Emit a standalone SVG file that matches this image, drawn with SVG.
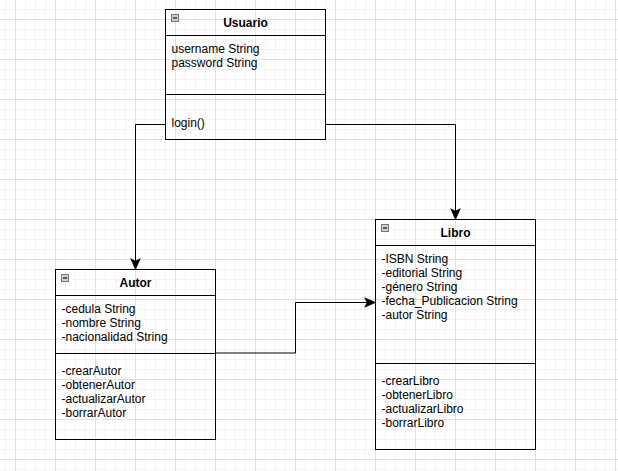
<svg xmlns="http://www.w3.org/2000/svg" width="618" height="471" viewBox="0 0 618 471">
<style>
.box{fill:none;stroke:#000;stroke-width:1}
.ln{stroke:#000;stroke-width:1;fill:none}
.t{font-family:"Liberation Sans",Arial,sans-serif;font-size:12px;fill:#000}
.h{font-family:"Liberation Sans",Arial,sans-serif;font-size:12px;font-weight:bold;fill:#000;text-anchor:middle}
.icon{fill:#cfcfcf;stroke:#707880;stroke-width:1}
.minus{stroke:#111;stroke-width:1.2}
.edge{stroke:#000;stroke-width:1;fill:none;marker-end:url(#arr)}
</style>
<defs>
<pattern id="minor" width="10" height="10" patternUnits="userSpaceOnUse" x="5" y="9">
<path d="M0.5,0 V10 M0,0.5 H10" stroke="#f3f3f3" stroke-width="1" fill="none"/>
</pattern>
<pattern id="major" width="40" height="40" patternUnits="userSpaceOnUse" x="15" y="19">
<path d="M0.5,0 V40 M0,0.5 H40" stroke="#e0e0e0" stroke-width="1" fill="none"/>
</pattern>
<marker id="arr" markerUnits="userSpaceOnUse" markerWidth="12" markerHeight="12" viewBox="0 0 10 10" refX="10" refY="5" orient="auto">
<path d="M1,1 L10,5 L1,9 L3,5 Z" fill="#000" stroke="#000" stroke-width="0.5"/>
</marker>
</defs>
<rect width="618" height="471" fill="#fff"/>
<rect width="618" height="471" fill="url(#minor)"/>
<rect width="618" height="471" fill="url(#major)"/>

<g id="connectors">
<path class="edge" d="M165.5,124.5 H135.5 V269.5"/>
<path class="edge" d="M325.5,124.5 H455.5 V219.5"/>
<path class="edge" d="M215.5,353 H295.5 V302.5 H375.5"/>
</g>

<g id="usuario">
<rect class="box" x="165.5" y="9.5" width="160" height="130"/>
<line class="ln" x1="165.5" y1="35.5" x2="325.5" y2="35.5"/>
<line class="ln" x1="165.5" y1="94.5" x2="325.5" y2="94.5"/>
<rect class="icon" x="171.5" y="14.5" width="7" height="7"/>
<line class="minus" x1="173" y1="18" x2="177" y2="18"/>
<text class="h" x="245.5" y="27">Usuario</text>
<text class="t" x="171.5" y="53">username String</text>
<text class="t" x="171.5" y="67">password String</text>
<text class="t" x="171.5" y="127">login()</text>
</g>

<g id="autor">
<rect class="box" x="55.5" y="269.5" width="160" height="170"/>
<line class="ln" x1="55.5" y1="295.5" x2="215.5" y2="295.5"/>
<line class="ln" x1="55.5" y1="353.5" x2="215.5" y2="353.5"/>
<rect class="icon" x="61.5" y="274.5" width="7" height="7"/>
<line class="minus" x1="63" y1="278" x2="67" y2="278"/>
<text class="h" x="135.5" y="287">Autor</text>
<text class="t" x="61.5" y="313">-cedula String</text>
<text class="t" x="61.5" y="327">-nombre String</text>
<text class="t" x="61.5" y="341">-nacionalidad String</text>
<text class="t" x="61.5" y="375">-crearAutor</text>
<text class="t" x="61.5" y="389">-obtenerAutor</text>
<text class="t" x="61.5" y="403">-actualizarAutor</text>
<text class="t" x="61.5" y="417">-borrarAutor</text>
</g>

<g id="libro">
<rect class="box" x="375.5" y="219.5" width="160" height="230"/>
<line class="ln" x1="375.5" y1="245.5" x2="535.5" y2="245.5"/>
<line class="ln" x1="375.5" y1="363.5" x2="535.5" y2="363.5"/>
<rect class="icon" x="381.5" y="224.5" width="7" height="7"/>
<line class="minus" x1="383" y1="228" x2="387" y2="228"/>
<text class="h" x="455.5" y="237">Libro</text>
<text class="t" x="381.5" y="263">-ISBN String</text>
<text class="t" x="381.5" y="277">-editorial String</text>
<text class="t" x="381.5" y="291">-género String</text>
<text class="t" x="381.5" y="305">-fecha_Publicacion String</text>
<text class="t" x="381.5" y="319">-autor String</text>
<text class="t" x="381.5" y="385">-crearLibro</text>
<text class="t" x="381.5" y="399">-obtenerLibro</text>
<text class="t" x="381.5" y="413">-actualizarLibro</text>
<text class="t" x="381.5" y="427">-borrarLibro</text>
</g>
</svg>
